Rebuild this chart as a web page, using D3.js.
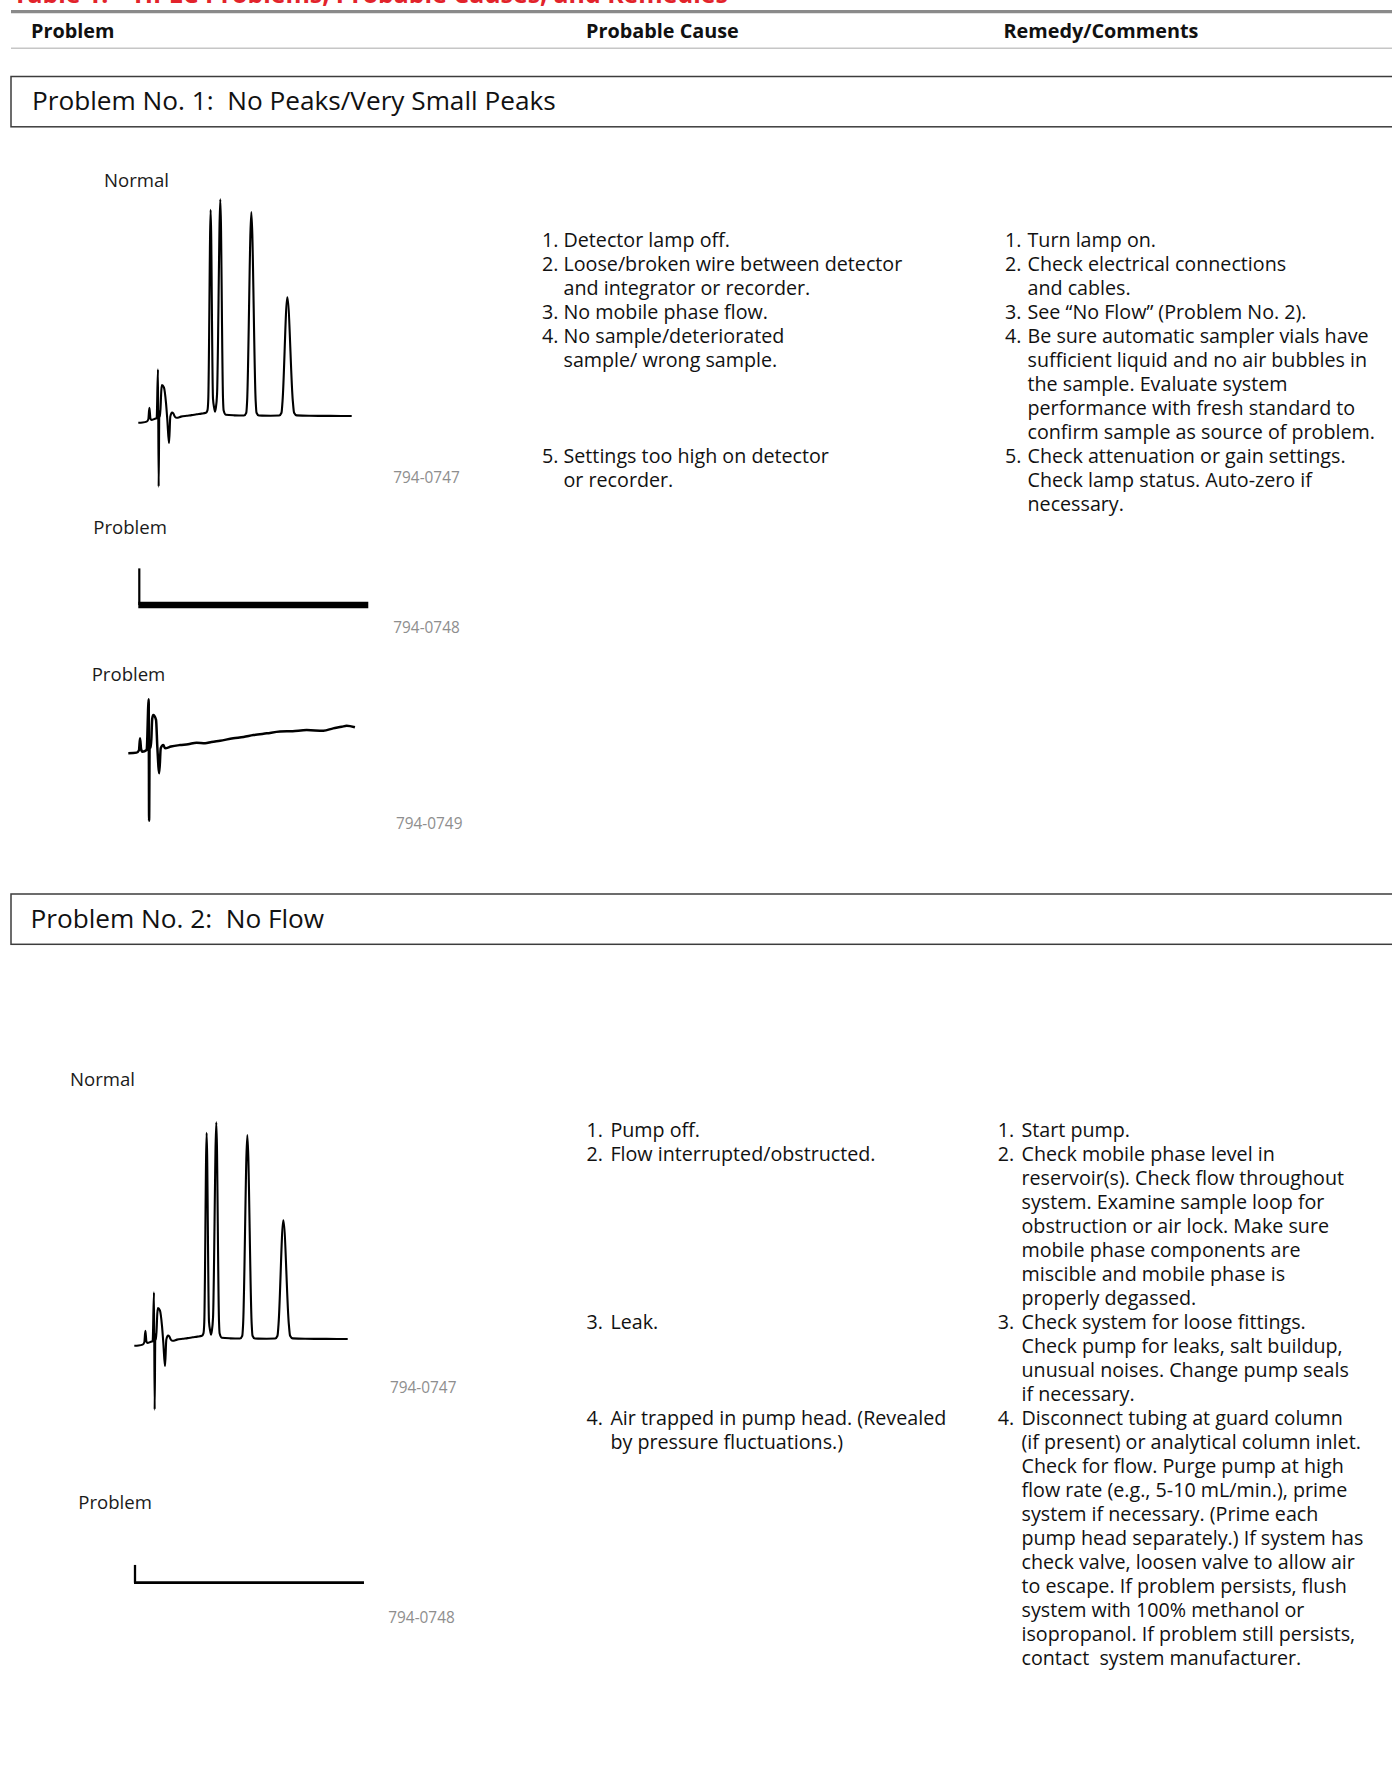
<!DOCTYPE html>
<html><head><meta charset="utf-8">
<script src="https://cdn.jsdelivr.net/npm/d3@7"></script>
<style>
html,body{margin:0;padding:0;background:#fff;}
svg{display:block;}
text{white-space:pre;}
</style></head><body>
<svg id="c" width="1392" height="1775"></svg>
<script>
// ---------------- DATA ----------------
const tableTitle = "Table 1:    HPLC Problems, Probable Causes, and Remedies";
const columnHeaders = ["Problem", "Probable Cause", "Remedy/Comments"];
const problemTitles = ["Problem No. 1:  No Peaks/Very Small Peaks", "Problem No. 2:  No Flow"];
const traceLabels = ["Normal", "Problem"];
const figureIds = ["794-0747", "794-0748", "794-0749"];

// normal chromatogram: [time (min), signal]
const normalTrace = [
  [0, -3.1], [0.2, -3.0], [0.39, -2.6], [0.47, -1.5], [0.52, 3.8], [0.57, -1.2], [0.62, -1.8],
  [0.75, -1.4], [0.86, -1.0], [0.923, 21.5], [0.954, -32.6], [0.985, 2], [1.02, -0.3],
  [1.08, 12], [1.11, 14.3], [1.2, 13.2], [1.3, 5.8], [1.36, -1.8], [1.44, -12.6],
  [1.5, -0.3], [1.58, 1.6], [1.64, 1.2], [1.72, -0.4], [1.8, -0.8], [2.0, -0.3],
  [2.27, 0.1], [2.5, 0.4], [2.74, 0.8], [2.95, 1.1], [3.17, 1.5], [3.24, 2.6], [3.28, 8],
  [3.39, 95.1], [3.5, 8], [3.56, 3.5], [3.594, 2.0], [3.63, 3.5], [3.69, 10], [3.844, 100],
  [3.97, 8], [4.0, 2.5], [4.1, 0.6],
  [4.5, 0.3], [4.95, 0.2], [5.06, 1.5], [5.1, 7], [5.297, 94.1], [5.5, 7], [5.54, 1.5], [5.65, 0.2],
  [6.2, 0.15], [6.6, 0.2], [6.71, 1.5], [6.76, 7], [6.984, 54.8], [7.24, 7], [7.3, 1.5], [7.42, 0.3],
  [8.0, 0.1], [9.0, 0.05], [10.0, 0]
];
// problem: no peaks, drifting baseline
const driftTrace = [
  [0, -2.9], [0.39, -2.6], [0.5, -1.5], [0.55, 4.0], [0.6, -1.0], [0.66, -2.2], [0.86, -1.4],
  [0.955, 22], [0.975, -34], [1.0, 1], [1.06, -0.2], [1.12, 13], [1.17, 14.8], [1.3, 12.5],
  [1.36, 0.1], [1.45, -12.1], [1.52, -0.6], [1.64, 0.9], [1.72, -0.6], [2.0, 0.2],
  [2.42, 0.9], [2.8, 1.3], [3.2, 2.0], [3.6, 1.7], [3.9, 2.3], [4.3, 2.9], [4.92, 4.0],
  [5.4, 4.6], [5.86, 5.5], [6.49, 6.3], [7.11, 7.1], [7.7, 7.3], [8.36, 7.8],
  [9.14, 7.5], [9.6, 8.6], [10.0, 9.3], [10.23, 9.8], [10.62, 9.1]
];
// problem: flat line (no signal)
const flatTrace1 = [[0, 16.9], [0, 0], [10.73, 0]];
const flatTrace2 = [[0, 8.2], [0, 0], [10.73, 0]];

// text rows: [number, text]
const causes1 = [
  ["1.", "Detector lamp off."],
  ["2.", "Loose/broken wire between detector"],
  ["", "and integrator or recorder."],
  ["3.", "No mobile phase flow."],
  ["4.", "No sample/deteriorated"],
  ["", "sample/ wrong sample."],
  ["", ""], ["", ""], ["", ""],
  ["5.", "Settings too high on detector"],
  ["", "or recorder."]
];
const remedies1 = [
  ["1.", "Turn lamp on."],
  ["2.", "Check electrical connections"],
  ["", "and cables."],
  ["3.", "See \u201cNo Flow\u201d (Problem No. 2)."],
  ["4.", "Be sure automatic sampler vials have"],
  ["", "sufficient liquid and no air bubbles in"],
  ["", "the sample. Evaluate system"],
  ["", "performance with fresh standard to"],
  ["", "confirm sample as source of problem."],
  ["5.", "Check attenuation or gain settings."],
  ["", "Check lamp status. Auto-zero if"],
  ["", "necessary."]
];
const causes2 = [
  ["1.", "Pump off."],
  ["2.", "Flow interrupted/obstructed."],
  ["", ""], ["", ""], ["", ""], ["", ""], ["", ""], ["", ""],
  ["3.", "Leak."],
  ["", ""], ["", ""], ["", ""],
  ["4.", "Air trapped in pump head. (Revealed"],
  ["", "by pressure fluctuations.)"]
];
const remedies2 = [
  ["1.", "Start pump."],
  ["2.", "Check mobile phase level in"],
  ["", "reservoir(s). Check flow throughout"],
  ["", "system. Examine sample loop for"],
  ["", "obstruction or air lock. Make sure"],
  ["", "mobile phase components are"],
  ["", "miscible and mobile phase is"],
  ["", "properly degassed."],
  ["3.", "Check system for loose fittings."],
  ["", "Check pump for leaks, salt buildup,"],
  ["", "unusual noises. Change pump seals"],
  ["", "if necessary."],
  ["4.", "Disconnect tubing at guard column"],
  ["", "(if present) or analytical column inlet."],
  ["", "Check for flow. Purge pump at high"],
  ["", "flow rate (e.g., 5-10 mL/min.), prime"],
  ["", "system if necessary. (Prime each"],
  ["", "pump head separately.) If system has"],
  ["", "check valve, loosen valve to allow air"],
  ["", "to escape. If problem persists, flush"],
  ["", "system with 100% methanol or"],
  ["", "isopropanol. If problem still persists,"],
  ["", "contact  system manufacturer."]
];

// ---------------- RENDER ----------------
const FONT = "'Open Sans', 'Noto Sans', sans-serif";
const svg = d3.select("#c");
svg.append("rect").attr("width", 1392).attr("height", 1775).attr("fill", "#fff");

function fit(sample, target, weight) {
  const t = svg.append("text").attr("font-family", FONT).attr("font-size", 20)
    .attr("font-weight", weight).text(sample);
  const w = t.node().getComputedTextLength();
  t.remove();
  return 20 * target / w;
}
const bodySize = fit("Loose/broken wire between detector", 339, 400);
const headSize = fit("Remedy/Comments", 195, 700);
const titleSize = fit("Problem No. 1:  No Peaks/Very Small Peaks", 524, 400);
const labelSize = fit("Normal", 65, 400);
const idSize = fit("794-0747", 66.5, 400);
const redSize = fit(tableTitle, 715, 700);

// red title (cut off at top, as in the reference page crop)
svg.append("text").attr("x", 13).attr("y", 2.5).attr("font-family", FONT)
  .attr("font-weight", 700).attr("font-size", redSize).attr("fill", "#e2232b").text(tableTitle);

// header rules
svg.append("line").attr("x1", 11).attr("x2", 1392).attr("y1", 11.7).attr("y2", 11.7)
  .attr("stroke", "#8a8a8a").attr("stroke-width", 3.2);
svg.append("line").attr("x1", 11).attr("x2", 1392).attr("y1", 48.3).attr("y2", 48.3)
  .attr("stroke", "#c6c6c6").attr("stroke-width", 1.5);
const headX = [31, 586, 1003.5];
svg.selectAll("text.hdr").data(columnHeaders).join("text").attr("class", "hdr")
  .attr("x", (d, i) => headX[i]).attr("y", 37.5).attr("font-family", FONT)
  .attr("font-weight", 700).attr("font-size", headSize).attr("fill", "#111").text(d => d);

// problem boxes
const boxY = [76.5, 894];
problemTitles.forEach((t, i) => {
  svg.append("rect").attr("x", 11).attr("y", boxY[i]).attr("width", 1420).attr("height", 50.3)
    .attr("fill", "none").attr("stroke", "#3c3c3c").attr("stroke-width", 1.5);
  svg.append("text").attr("x", i === 0 ? 32 : 30.5).attr("y", boxY[i] + 33.5)
    .attr("font-family", FONT).attr("font-size", titleSize).attr("fill", "#111").text(t);
});

// chromatogram mini charts
function drawTrace(data, ox, oy, width) {
  const x = d3.scaleLinear().domain([0, 10]).range([ox, ox + 213.4]);
  const y = d3.scaleLinear().domain([0, 100]).range([oy, oy - 216.7]);
  const line = d3.line().x(d => x(d[0])).y(d => y(d[1])).curve(d3.curveMonotoneX);
  svg.append("path").attr("d", line(data)).attr("fill", "none").attr("stroke", "#000")
    .attr("stroke-width", width).attr("stroke-linejoin", "round");
}
function drawFlat(data, ox, oy, vw, hw) {
  const x = d3.scaleLinear().domain([0, 10]).range([ox, ox + 213.4]);
  const y = d3.scaleLinear().domain([0, 100]).range([oy, oy - 216.7]);
  const line = d3.line().x(d => x(d[0])).y(d => y(d[1]));
  svg.append("path").attr("d", line(data.slice(0, 2))).attr("fill", "none")
    .attr("stroke", "#000").attr("stroke-width", vw);
  svg.append("path").attr("d", line([[data[1][0] - 1 / 21.34, data[1][1]], data[2]])).attr("fill", "none")
    .attr("stroke", "#000").attr("stroke-width", hw);
}
function label(txt, x, y) {
  svg.append("text").attr("x", x).attr("y", y).attr("font-family", FONT)
    .attr("font-size", labelSize).attr("fill", "#1a1a1a").text(txt);
}
function figId(txt, x, y) {
  svg.append("text").attr("x", x).attr("y", y).attr("font-family", FONT)
    .attr("font-size", idSize).attr("fill", "#8e8e8e").text(txt);
}

// section 1
label(traceLabels[0], 104, 186.7);
drawTrace(normalTrace, 138.3, 416, 2.1);
figId(figureIds[0], 393.3, 483.3);
label(traceLabels[1], 93.3, 534);
drawFlat(flatTrace1, 139.3, 605, 2.2, 6.5);
figId(figureIds[1], 393.3, 632.7);
label(traceLabels[1], 91.7, 681);
drawTrace(driftTrace, 128.3, 747, 2.5);
figId(figureIds[2], 396, 829.3);

// section 2
label(traceLabels[0], 70, 1086);
drawTrace(normalTrace, 134.3, 1339, 2.1);
figId(figureIds[0], 390, 1393.3);
label(traceLabels[1], 78.3, 1509);
drawFlat(flatTrace2, 135, 1582.7, 2.3, 2.8);
figId(figureIds[1], 388.3, 1623.3);

// text columns
function column(rows, nx, tx, y0) {
  const g = svg.append("g").attr("font-family", FONT).attr("font-size", bodySize).attr("fill", "#111");
  rows.forEach((r, i) => {
    const y = y0 + i * 24;
    if (r[0]) g.append("text").attr("x", nx).attr("y", y).text(r[0]);
    if (r[1]) g.append("text").attr("x", tx).attr("y", y).text(r[1]);
  });
}
column(causes1, 542, 563.5, 247.3);
column(remedies1, 1005, 1027.5, 247.3);
column(causes2, 586.5, 610.4, 1136.5);
column(remedies2, 997.7, 1021.5, 1136.5);
</script>
</body></html>
